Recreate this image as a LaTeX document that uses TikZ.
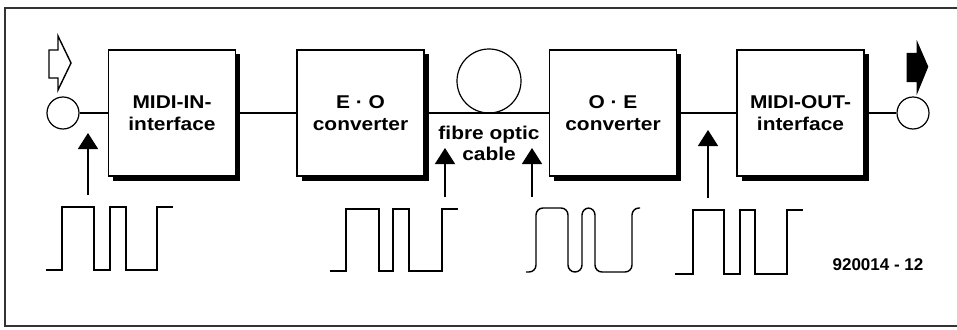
\documentclass[tikz,border=0pt]{standalone}
\usepackage{fontspec}
\setmainfont{Liberation Sans}
\newfontfamily\lblfont{Liberation Sans}[FakeStretch=1.13]
\usetikzlibrary{arrows.meta,shadows}
\begin{document}
\begin{tikzpicture}[x=1pt,y=-1pt,
  lbl/.style={font=\lblfont\bfseries\fontsize{18.5}{22.5}\selectfont, align=center},
  blk/.style={draw, line width=1.6pt, fill=white, minimum width=127pt, minimum height=126pt,
    inner sep=0pt, lbl,
    drop shadow={shadow xshift=4.5pt, shadow yshift=-4.5pt, fill=black, opacity=1}},
  jack/.style={draw, circle, line width=1.2pt, minimum size=32pt, inner sep=0pt},
  wire/.style={line width=1.2pt},
  uparrow/.style={line width=1.5pt, -{Triangle[width=20pt,length=16pt]}},
  wave/.style={line width=1.4pt},
  frame/.style={line width=2pt, draw=black!80}]
\useasboundingbox (0,0) rectangle (957,329);
\draw[frame] (965,8) -- (5,8) -- (5,326) -- (965,326);

% blocks
\node[blk] (b1) at (172,113) {MIDI-IN-\\interface};
\node[blk] (b2) at (360.5,113) {E · O\\converter};
\node[blk] (b3) at (613,113) {O · E\\converter};
\node[blk] (b4) at (800.5,113) {MIDI-OUT-\\interface};
\node[jack] (in) at (63,113) {};
\node[jack] (out) at (913,113) {};
\node[draw, circle, line width=1.2pt, minimum size=64pt, inner sep=0pt] (loop) at (489,81) {};

\draw[wire] (in) -- (b1);
\draw[wire] (b1) -- (b2);
\draw[wire] (b2) -- (b3);
\draw[wire] (b3) -- (b4);
\draw[wire] (b4) -- (out);

\node[lbl, font=\lblfont\bfseries\fontsize{18.5}{21}\selectfont] (cab) at (489,143) {fibre optic\\cable};

% input / output arrows
\draw[line width=1.4pt, line join=miter] (49,50) -- (58,50) -- (58,36) -- (71,63) -- (58,90) -- (58,78) -- (49,78) -- cycle;
\fill (906.7,53) -- (916.7,53) -- (916.7,40) -- (928.3,66.7) -- (916.7,95) -- (916.7,82) -- (906.7,82) -- cycle;

% measuring arrows
\coordinate (s1) at (88,195); \coordinate (t1) at (88,133);
\coordinate (s2) at (445,197); \coordinate (t2) at (445,148);
\coordinate (s3) at (532,197); \coordinate (t3) at (532,148);
\coordinate (s4) at (708,198); \coordinate (t4) at (708,130);
\draw[uparrow] (s1) -- (t1);
\draw[uparrow] (s2) -- (t2);
\draw[uparrow] (s3) -- (t3);
\draw[uparrow] (s4) -- (t4);

% waveforms
\draw[wave] (46,270) -- (62,270) -- (62,207) -- (94,207) -- (94,270) -- (110,270) -- (110,207) -- (126,207) -- (126,270) -- (157,270) -- (157,207) -- (173,207);
\draw[wave] (330,271) -- (346,271) -- (346,209) -- (379,209) -- (379,271) -- (393,271) -- (393,209) -- (409,209) -- (409,271) -- (442,271) -- (442,209) -- (458,209);
\draw[wave, rounded corners=7pt] (526,272) -- (536,272) -- (536,208) -- (568,208) -- (568,272) -- (582,272) -- (582,208) -- (595,208) -- (595,272) -- (632,272) -- (632,208) -- (640,208);
\draw[wave] (675,274) -- (693,274) -- (693,210) -- (724,210) -- (724,274) -- (740,274) -- (740,210) -- (755,210) -- (755,274) -- (787,274) -- (787,210) -- (803,210);

\node[font=\bfseries\fontsize{17}{20}\selectfont] (ref) at (878,265) {920014 - 12};
\end{tikzpicture}
\end{document}
